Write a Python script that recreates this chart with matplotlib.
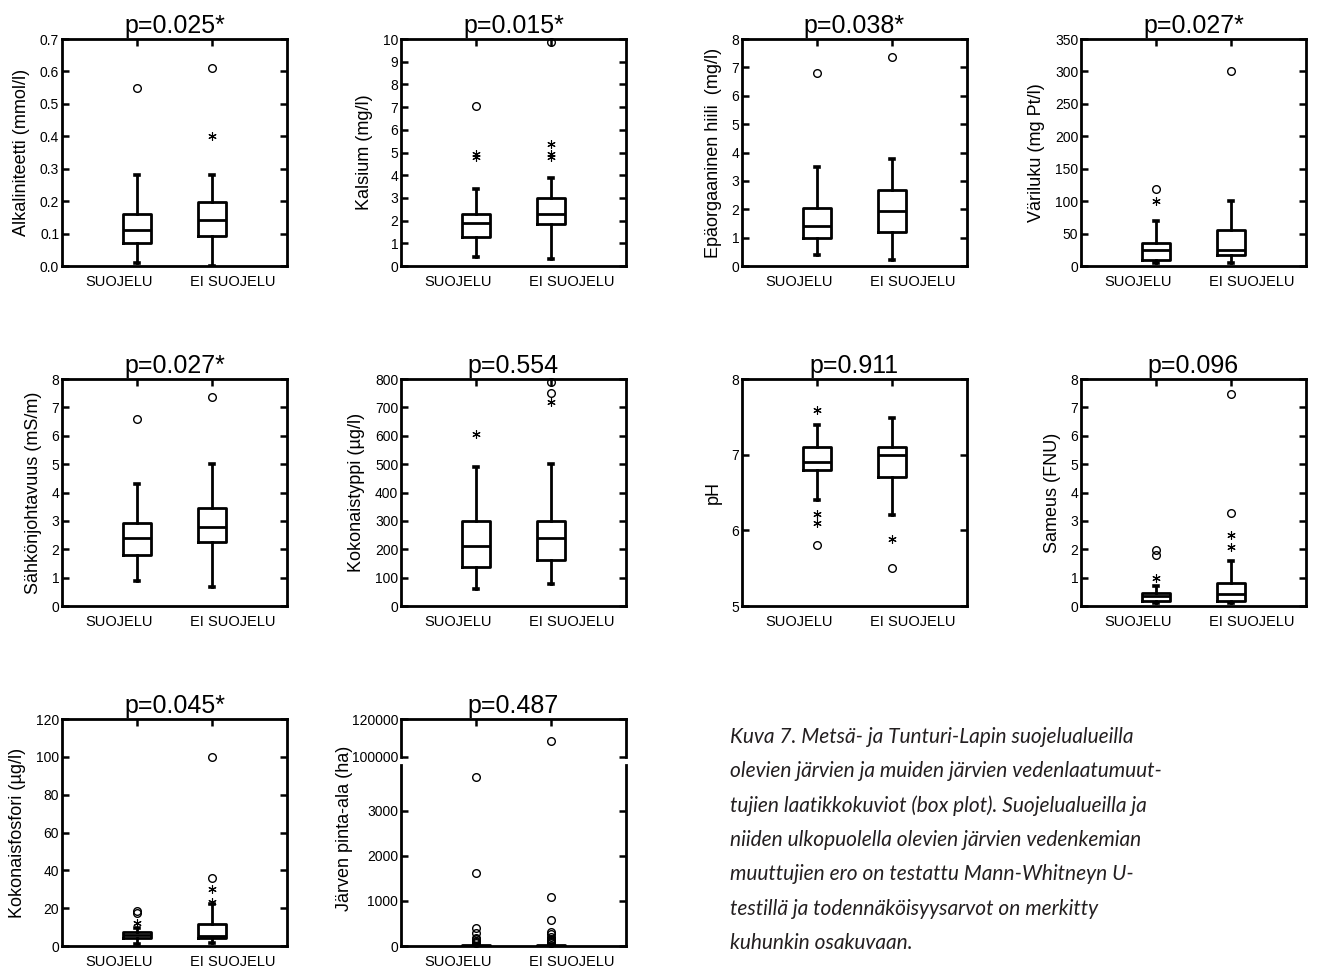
import matplotlib
matplotlib.use("Agg")
import matplotlib.pyplot as plt
from matplotlib.ticker import MultipleLocator, FormatStrFormatter

plt.rcParams['font.family'] = ['Liberation Sans', 'DejaVu Sans']

groups = ["SUOJELU", "EI SUOJELU"]

# Box summaries per group: [lower whisker, Q1, median, Q3, upper whisker]
alkaliniteetti_box = [[0.008, 0.070, 0.111, 0.161, 0.280], [0.000, 0.093, 0.141, 0.196, 0.280]]
alkaliniteetti_out = [[0.55], [0.61]]
alkaliniteetti_ext = [[], [0.40]]

kalsium_box = [[0.40, 1.29, 1.91, 2.31, 3.39], [0.32, 1.84, 2.29, 3.00, 3.86]]
kalsium_out = [[7.06], [9.85]]
kalsium_ext = [[4.82, 4.92], [4.82, 4.92, 5.37]]

hiili_box = [[0.39, 1.00, 1.41, 2.04, 3.50], [0.21, 1.21, 1.95, 2.69, 3.78]]
hiili_out = [[6.79], [7.38]]
hiili_ext = [[], []]

variluku_box = [[4, 9, 25, 35, 70], [4, 17, 24, 55, 100]]
variluku_out = [[119], [300]]
variluku_ext = [[100], []]

sahko_box = [[0.89, 1.79, 2.40, 2.91, 4.29], [0.66, 2.26, 2.80, 3.44, 4.99]]
sahko_out = [[6.59], [7.38]]
sahko_ext = [[], []]

typpi_box = [[60, 139, 210, 298, 490], [78, 161, 240, 298, 499]]
typpi_out = [[], [750, 790]]
typpi_ext = [[605], [718]]

ph_box = [[6.40, 6.80, 6.90, 7.10, 7.39], [6.20, 6.70, 7.00, 7.10, 7.49]]
ph_out = [[5.80], [5.50]]
ph_ext = [[7.59, 6.21, 6.10], [5.89]]

sameus_box = [[0.09, 0.19, 0.35, 0.47, 0.69], [0.09, 0.19, 0.42, 0.80, 1.60]]
sameus_out = [[1.80, 1.97], [3.29, 7.47]]
sameus_ext = [[1.00], [2.09, 2.50]]

fosfori_box = [[0.9, 4.05, 5.8, 7.2, 9.3], [1.8, 4.05, 5.5, 11.8, 22.2]]
fosfori_out = [[17.3, 18.3], [36, 100]]
fosfori_ext = [[12.3], [23.4, 30]]

pinta_ala_box = [[0.5, 3, 8, 20, 45], [0.5, 3, 9, 22, 50]]
pinta_ala_out = [[70, 95, 120, 145, 170, 281, 393, 1615, 3748],
                 [65, 90, 115, 140, 165, 190, 267, 319, 578, 1089, 108300]]
pinta_ala_ext = [[], []]

p_values = ["p=0.025*", "p=0.015*", "p=0.038*", "p=0.027*",
            "p=0.027*", "p=0.554", "p=0.911", "p=0.096",
            "p=0.045*", "p=0.487"]
ylabels = ["Alkaliniteetti (mmol/l)", "Kalsium (mg/l)", "Epäorgaaninen hiili  (mg/l)",
           "Väriluku (mg Pt/l)", "Sähkönjohtavuus (mS/m)", "Kokonaistyppi (µg/l)",
           "pH", "Sameus (FNU)", "Kokonaisfosfori (µg/l)", "Järven pinta-ala (ha)"]

caption_lines = [
    "Kuva 7. Metsä- ja Tunturi-Lapin suojelualueilla",
    "olevien järvien ja muiden järvien vedenlaatumuut-",
    "tujien laatikkokuviot (box plot). Suojelualueilla ja",
    "niiden ulkopuolella olevien järvien vedenkemian",
    "muuttujien ero on testattu Mann-Whitneyn U-",
    "testillä ja todennäköisyysarvot on merkitty",
    "kuhunkin osakuvaan.",
]

panels = [
    (alkaliniteetti_box, alkaliniteetti_out, alkaliniteetti_ext, (0, 0.7), 0.1, "%.1f"),
    (kalsium_box, kalsium_out, kalsium_ext, (0, 10), 1, "%d"),
    (hiili_box, hiili_out, hiili_ext, (0, 8), 1, "%d"),
    (variluku_box, variluku_out, variluku_ext, (0, 350), 50, "%d"),
    (sahko_box, sahko_out, sahko_ext, (0, 8), 1, "%d"),
    (typpi_box, typpi_out, typpi_ext, (0, 800), 100, "%d"),
    (ph_box, ph_out, ph_ext, (5, 8), 1, "%d"),
    (sameus_box, sameus_out, sameus_ext, (0, 8), 1, "%d"),
    (fosfori_box, fosfori_out, fosfori_ext, (0, 120), 20, "%d"),
]

W, H = 1318, 972
fig = plt.figure(figsize=(W / 100, H / 100), dpi=100)

col_left = [62, 401, 742, 1081]
row_top = [39, 379, 719]
ax_w, ax_h = 225, 227

LW = 2.0
ASTER = (6, 2, 0)
BOX_POS = [1, 2]
LABEL_POS = [0.76, 2.28]


def px_axes(left, top, width, height):
    return fig.add_axes([left / W, 1 - (top + height) / H, width / W, height / H])


def style_axes(ax, top_ticks=True):
    for s in ax.spines.values():
        s.set_linewidth(LW)
    ax.set_xlim(0, 3)
    ax.set_xticks(LABEL_POS)
    ax.set_xticklabels(groups)
    ax.set_xticks(BOX_POS, minor=True)
    ax.tick_params(axis='y', direction='in', left=True, right=True,
                   length=5, width=1.8, labelsize=10, pad=2)
    ax.tick_params(axis='x', which='major', bottom=False, top=False,
                   labelsize=10.5, pad=3)
    ax.tick_params(axis='x', which='minor', bottom=False, top=top_ticks,
                   direction='in', length=5, width=1.8)


def draw_boxes(ax, box, out, ext, clip_out=None):
    stats = []
    for b, lab in zip(box, groups):
        stats.append(dict(whislo=b[0], q1=b[1], med=b[2], q3=b[3], whishi=b[4],
                          fliers=[], label=lab))
    ax.bxp(stats, positions=BOX_POS, widths=0.37, showfliers=False, capwidths=0.06,
           boxprops=dict(linewidth=LW, color='black'),
           whiskerprops=dict(linewidth=LW, color='black'),
           capprops=dict(linewidth=LW * 1.3, color='black'),
           medianprops=dict(linewidth=LW, color='black'))
    for pos, vals in zip(BOX_POS, out):
        if clip_out is not None:
            vals = [v for v in vals if clip_out[0] <= v <= clip_out[1]]
        if vals:
            ax.plot([pos] * len(vals), vals, linestyle='none', marker='o', ms=5.5,
                    mfc='none', mec='black', mew=1.0, clip_on=False)
    for pos, vals in zip(BOX_POS, ext):
        if vals:
            ax.plot([pos] * len(vals), vals, linestyle='none', marker=ASTER, ms=6,
                    color='black', mew=0.8, clip_on=False)


for i, (box, out, ext, ylim, step, fmt) in enumerate(panels):
    r, c = divmod(i, 4)
    ax = px_axes(col_left[c], row_top[r], ax_w, ax_h)
    draw_boxes(ax, box, out, ext)
    ax.set_ylim(*ylim)
    ax.yaxis.set_major_locator(MultipleLocator(step))
    ax.yaxis.set_major_formatter(FormatStrFormatter(fmt))
    style_axes(ax)
    ax.set_ylabel(ylabels[i], fontsize=13, labelpad=7)
    ax.set_title(p_values[i], fontsize=18, pad=4)

# Lake area: broken y axis
up_top, up_bot = 719, 757
lo_top, lo_bot = 765, 946
ax_up = px_axes(col_left[1], up_top, ax_w, up_bot - up_top)
ax_lo = px_axes(col_left[1], lo_top, ax_w, lo_bot - lo_top)

draw_boxes(ax_lo, pinta_ala_box, pinta_ala_out, pinta_ala_ext, clip_out=(0, 4022))
ax_lo.set_ylim(0, 4022)
ax_lo.set_yticks([0, 1000, 2000, 3000])
style_axes(ax_lo, top_ticks=False)
ax_lo.spines['top'].set_visible(False)
ax_lo.set_ylabel(ylabels[9], fontsize=13)
ax_lo.yaxis.set_label_coords(-0.215, 0.65)

for pos, vals in zip(BOX_POS, pinta_ala_out):
    big = [v for v in vals if v >= 100000]
    if big:
        ax_up.plot([pos] * len(big), big, linestyle='none', marker='o', ms=5.5,
                   mfc='none', mec='black', mew=1.0)
ax_up.set_ylim(100000, 120000)
ax_up.set_yticks([100000, 120000])
style_axes(ax_up)
ax_up.spines['bottom'].set_visible(False)
ax_up.tick_params(axis='x', which='major', labelbottom=False)
ax_up.set_title(p_values[9], fontsize=18, pad=4)

# Caption
cap_x = 730
for k, line in enumerate(caption_lines):
    fig.text(cap_x / W, 1 - (743 + k * 34.3) / H, line, fontsize=15,
             family=['Lato', 'DejaVu Sans'], style='italic', color='#231f20',
             va='baseline', ha='left')

fig.savefig("out.png", dpi=100)
